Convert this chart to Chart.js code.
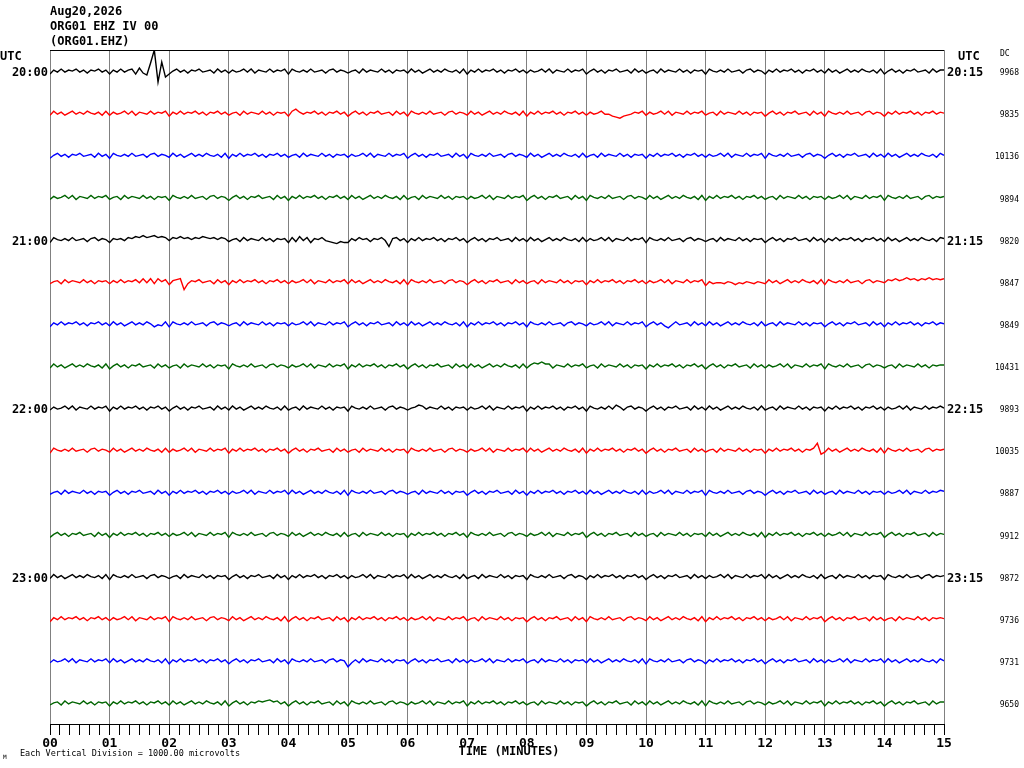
<!DOCTYPE html>
<html lang="en">
<head>
    <meta charset="UTF-8">
    <title>ORG01 EHZ IV 00 helicorder</title>
    <style>
        body {
            margin: 0;
            background-color: #fff;
        }
        canvas {
            display: block;
        }
    </style>
    <script src="https://cdn.jsdelivr.net/npm/chart.js"></script>
</head>
<body>
    <canvas id="heliChart" width="1024" height="768"></canvas>

    <script>
        // Header and axis text
        const titleLines = ['Aug20,2026', 'ORG01 EHZ IV 00', '(ORG01.EHZ)'];
        const minuteLabels = ['00', '01', '02', '03', '04', '05', '06', '07', '08', '09', '10', '11', '12', '13', '14', '15'];
        const leftTimes = ['20:00', '', '', '', '21:00', '', '', '', '22:00', '', '', '', '23:00', '', '', ''];
        const rightTimes = ['20:15', '', '', '', '21:15', '', '', '', '22:15', '', '', '', '23:15', '', '', ''];
        const dcValues = [9968, 9835, 10136, 9894, 9820, 9847, 9849, 10431, 9893, 10035, 9887, 9912, 9872, 9736, 9731, 9650];
        const rowColors = ['#000000', '#ff0000', '#0000ff', '#006400'];

        // One sample every 3.75 s (1/16 min), amplitude in screen units, positive = up
        const sampleStep = 0.0625;
        const rowSpacing = 42.125;

        const trace0 = [-3,1,-1,2,-1,1,0,2,-1,1,-2,1,0,2,-1,1, -3,1,-1,2,-1,1,2,-3,3,-2,-4,8,21,-11,9,-6,
            -3,0,2,-1,1,-2,1,0,2,-1,0,1,-2,2,-1,1, -2,1,-1,0,2,-1,2,-2,1,0,-1,2,-1,1,0,2,
            -3,2,0,-1,1,-1,2,-1,0,1,-2,1,2,-1,1,0, -2,0,1,-2,2,-1,1,0,-1,2,-1,1,-2,1,0,1,
            -2,2,-1,1,-2,0,2,-1,1,-1,2,0,-1,1,-2,2, -3,1,-1,2,-1,1,0,2,-1,1,-2,1,0,2,-1,1,
            -2,1,-1,0,2,-1,2,-2,1,0,-1,2,-1,1,0,2, -3,0,2,-1,1,-2,1,0,2,-1,0,1,-2,2,-1,1,
            -2,0,1,-2,2,-1,1,0,-1,2,-1,1,-2,1,0,1, -3,2,0,-1,1,-1,2,-1,0,1,-2,1,2,-1,1,0,
            -3,1,-1,2,-1,1,0,2,-1,1,-2,1,0,2,-1,1, -2,2,-1,1,-2,0,2,-1,1,-1,2,0,-1,1,-2,2,
            -3,0,2,-1,1,-2,1,0,2,-1,0,1,-2,2,-1,1, 1];
        const trace1 = [-2,2,-1,1,-2,0,2,-1,1,-1,2,0,-1,1,-2,2, -2,1,-1,0,2,-1,2,-2,1,0,-1,2,-1,1,0,2,
            -3,1,-1,2,-1,1,0,2,-1,1,-2,1,0,2,-1,1, -2,0,1,-2,2,-1,1,0,-1,2,-1,1,-2,1,0,1,
            -3,2,4,1,-1,1,0,2,-1,1,-2,1,0,2,-1,1, -3,0,2,-1,1,-2,1,0,2,-1,0,1,-2,2,-1,1,
            -3,2,0,-1,1,-1,2,-1,0,1,-2,1,2,-1,1,0, -2,2,-1,1,-2,0,2,-1,1,-1,2,0,-1,1,-2,2,
            -3,1,-1,2,-1,1,0,2,-1,1,-2,1,0,2,-1,1, -2,1,-1,0,2,-1,-1,-3,-4,-5,-3,-2,-1,1,0,2,
            -2,1,-1,0,2,-1,2,-2,1,0,-1,2,-1,1,0,2, -2,0,1,-2,2,-1,1,0,-1,2,-1,1,-2,1,0,1,
            -3,0,2,-1,1,-2,1,0,2,-1,0,1,-2,2,-1,1, -3,2,0,-1,1,-1,2,-1,0,1,-2,1,2,-1,1,0,
            -3,1,-1,2,-1,1,0,2,-1,1,-2,1,0,2,-1,1, 0];
        const trace2 = [-3,0,2,-1,1,-2,1,0,2,-1,0,1,-2,2,-1,1, -3,2,0,-1,1,-1,2,-1,0,1,-2,1,2,-1,1,0,
            -2,2,-1,1,-2,0,2,-1,1,-1,2,0,-1,1,-2,2, -3,1,-1,2,-1,1,0,2,-1,1,-2,1,0,2,-1,1,
            -2,0,1,-2,2,-1,1,0,-1,2,-1,1,-2,1,0,1, -2,1,-1,0,2,-1,2,-2,1,0,-1,2,-1,1,0,2,
            -3,0,2,-1,1,-2,1,0,2,-1,0,1,-2,2,-1,1, -3,2,0,-1,1,-1,2,-1,0,1,-2,1,2,-1,1,0,
            -2,2,-1,1,-2,0,2,-1,1,-1,2,0,-1,1,-2,2, -2,0,1,-2,2,-1,1,0,-1,2,-1,1,-2,1,0,1,
            -3,1,-1,2,-1,1,0,2,-1,1,-2,1,0,2,-1,1, -2,1,-1,0,2,-1,2,-2,1,0,-1,2,-1,1,0,2,
            -3,2,0,-1,1,-1,2,-1,0,1,-2,1,2,-1,1,0, -3,0,2,-1,1,-2,1,0,2,-1,0,1,-2,2,-1,1,
            -2,2,-1,1,-2,0,2,-1,1,-1,2,0,-1,1,-2,2, 0];
        const trace3 = [-2,1,-1,0,2,-1,2,-2,1,0,-1,2,-1,1,0,2, -2,0,1,-2,2,-1,1,0,-1,2,-1,1,-2,1,0,1,
            -3,2,0,-1,1,-1,2,-1,0,1,-2,1,2,-1,1,0, -3,0,2,-1,1,-2,1,0,2,-1,0,1,-2,2,-1,1,
            -3,1,-1,2,-1,1,0,2,-1,1,-2,1,0,2,-1,1, -2,2,-1,1,-2,0,2,-1,1,-1,2,0,-1,1,-2,2,
            -2,0,1,-2,2,-1,1,0,-1,2,-1,1,-2,1,0,1, -2,1,-1,0,2,-1,2,-2,1,0,-1,2,-1,1,0,2,
            -3,0,2,-1,1,-2,1,0,2,-1,0,1,-2,2,-1,1, -3,2,0,-1,1,-1,2,-1,0,1,-2,1,2,-1,1,0,
            -2,2,-1,1,-2,0,2,-1,1,-1,2,0,-1,1,-2,2, -3,1,-1,2,-1,1,0,2,-1,1,-2,1,0,2,-1,1,
            -2,0,1,-2,2,-1,1,0,-1,2,-1,1,-2,1,0,1, -2,1,-1,0,2,-1,2,-2,1,0,-1,2,-1,1,0,2,
            -3,2,0,-1,1,-1,2,-1,0,1,-2,1,2,-1,1,0, 1];
        const trace4 = [-3,2,0,-1,1,-1,2,-1,0,1,-2,1,2,-1,1,0, -3,1,0,1,-1,2,1,3,2,4,2,3,4,2,3,2,
            -1,2,1,3,1,2,0,2,1,3,2,1,2,0,2,1, -2,0,1,-2,2,-1,1,0,-1,2,-1,1,-2,1,0,1,
            -3,2,-2,3,-1,2,-3,1,0,2,-1,-2,-3,-4,-2,-3, -3,1,-1,2,0,1,-2,1,0,2,-1,-7,1,2,-1,1,
            -3,1,-1,2,-1,1,0,2,-1,1,-2,1,0,2,-1,1, -3,0,2,-1,1,-2,1,0,2,-1,0,1,-2,2,-1,1,
            -2,2,-1,1,-2,0,2,-1,1,-1,2,0,-1,1,-2,2, -2,1,-1,0,2,-1,2,-2,1,0,-1,2,-1,1,0,2,
            -3,2,0,-1,1,-1,2,-1,0,1,-2,1,2,-1,1,0, -2,0,1,-2,2,-1,1,0,-1,2,-1,1,-2,1,0,1,
            -3,0,2,-1,1,-2,1,0,2,-1,0,1,-2,2,-1,1, -3,1,-1,2,-1,1,0,2,-1,1,-2,1,0,2,-1,1,
            -2,2,-1,1,-2,0,2,-1,1,-1,2,0,-1,1,-2,2, 1];
        const trace5 = [-2,0,1,-2,2,-1,1,0,-1,2,-1,1,-2,1,0,1, -2,1,-1,2,-1,1,0,2,-1,3,-1,3,-2,3,0,2,
            -3,1,2,3,-8,-2,1,0,2,-1,0,1,-2,2,-1,1, -3,1,-1,2,-1,1,0,2,-1,1,-2,1,0,2,-1,1,
            -2,1,-1,0,2,-1,2,-2,1,0,-1,2,-1,1,0,2, -2,2,-1,1,-2,0,2,-1,1,-1,2,0,-1,1,-2,2,
            -3,2,0,-1,1,-1,2,-1,0,1,-2,1,2,-1,1,0, -3,0,2,-1,1,-2,1,0,2,-1,0,1,-2,2,-1,1,
            -2,0,1,-2,2,-1,1,0,-1,2,-1,1,-2,1,0,1, -3,1,-1,2,-1,1,0,2,-1,1,-2,1,0,2,-1,1,
            -2,1,-1,0,2,-1,2,-2,1,0,-1,2,-1,1,0,2, -4,0,-2,-1,-1,-2,0,-1,-3,-1,-2,0,-1,-2,0,-1,
            -2,2,-1,1,-2,0,2,-1,1,-1,2,0,-1,1,-2,2, -3,2,0,-1,1,-1,2,-1,0,1,-2,1,2,-1,1,0,
            -1,2,1,3,1,2,4,2,3,1,3,2,4,2,3,2, 3];
        const trace6 = [-3,1,-1,2,-1,1,0,2,-1,1,-2,1,0,2,-1,1, -2,2,-1,1,-2,0,2,-1,1,-1,2,0,-3,-1,-2,2,
            -3,2,0,-1,1,-1,2,-1,0,1,-2,1,2,-1,1,0, -2,0,1,-2,2,-1,1,0,-1,2,-1,1,-2,1,0,1,
            -2,1,-1,0,2,-1,2,-2,1,0,-1,2,-1,1,0,2, -3,0,2,-1,1,-2,1,0,2,-1,0,1,-2,2,-1,1,
            -2,2,-1,1,-2,0,2,-1,1,-1,2,0,-1,1,-2,2, -3,1,-1,2,-1,1,0,2,-1,1,-2,1,0,2,-1,1,
            -3,2,0,-1,1,-1,2,-1,0,1,-2,1,2,-1,1,0, -2,1,-1,0,2,-1,2,-2,1,0,-1,2,-1,1,0,2,
            -3,0,2,-1,1,-2,-4,-1,2,-1,0,1,-2,2,-1,1, -2,2,-1,1,-2,0,2,-1,1,-1,2,0,-1,1,-2,2,
            -2,0,1,-2,2,-1,1,0,-1,2,-1,1,-2,1,0,1, -3,0,2,-1,1,-2,1,0,2,-1,0,1,-2,2,-1,1,
            -3,1,-1,2,-1,1,0,2,-1,1,-2,1,0,2,-1,1, 0];
        const trace7 = [-2,2,-1,1,-2,0,2,-1,1,-1,2,0,-1,1,-2,2, -3,0,2,-1,1,-2,1,0,2,-1,0,1,-2,2,-1,1,
            -2,0,1,-2,2,-1,1,0,-1,2,-1,1,-2,1,0,1, -3,2,0,-1,1,-1,2,-1,0,1,-2,1,2,-1,1,0,
            -2,1,-1,0,2,-1,2,-2,1,0,-1,2,-1,1,0,2, -3,1,-1,2,-1,1,0,2,-1,1,-2,1,0,2,-1,1,
            -3,0,2,-1,1,-2,1,0,2,-1,0,1,-2,2,-1,1, -2,2,-1,1,-2,0,2,-1,1,-1,2,0,-1,1,-2,2,
            -2,1,3,2,4,2,2,-2,1,0,-1,2,-1,1,0,2, -2,0,1,-2,2,-1,1,0,-1,2,-1,1,-2,1,0,1,
            -3,1,-1,2,-1,1,0,2,-1,1,-2,1,0,2,-1,1, -3,0,2,-1,1,-2,1,0,2,-1,0,1,-2,2,-1,1,
            -2,1,-1,0,2,-1,2,-2,1,0,-1,2,-1,1,0,2, -3,2,0,-1,1,-1,2,-1,0,1,-2,1,2,-1,1,0,
            -2,0,1,-2,2,-1,1,0,-1,2,-1,1,-2,1,0,1, 1];
        const trace8 = [-2,1,-1,0,2,-1,2,-2,1,0,-1,2,-1,1,0,2, -3,1,-1,2,-1,1,0,2,-1,1,-2,1,0,2,-1,1,
            -3,0,2,-1,1,-2,1,0,2,-1,0,1,-2,2,-1,1, -2,2,-1,1,-2,0,2,-1,1,-1,2,0,-1,1,-2,2,
            -2,0,1,-2,2,-1,1,0,-1,2,-1,1,-2,1,0,1, -3,2,0,-1,1,-1,2,-1,0,1,-2,1,2,-1,1,0,
            -2,0,1,3,2,-1,1,0,-1,2,-1,1,-2,1,0,1, -2,1,-1,0,2,-1,2,-2,1,0,-1,2,-1,1,0,2,
            -3,1,-1,2,-1,1,0,2,-1,1,-2,1,0,2,-1,1, -3,2,0,-1,1,-1,2,-1,3,1,-2,1,2,-1,1,0,
            -3,0,2,-1,1,-2,1,0,2,-1,0,1,-2,2,-1,1, -2,2,-1,1,-2,0,2,-1,1,-1,2,0,-1,1,-2,2,
            -2,0,1,-2,2,-1,1,0,-1,2,-1,1,-2,1,0,1, -3,1,-1,2,-1,1,0,2,-1,1,-2,1,0,2,-1,1,
            -2,1,-1,0,2,-1,2,-2,1,0,-1,2,-1,1,0,2, 0];
        const trace9 = [-3,2,0,-1,1,-1,2,-1,0,1,-2,1,2,-1,1,0, -2,2,-1,1,-2,0,2,-1,1,-1,2,0,-1,1,-2,2,
            -2,1,-1,0,2,-1,2,-2,1,0,-1,2,-1,1,0,2, -3,1,-1,2,-1,1,0,2,-1,1,-2,1,0,2,-1,1,
            -3,0,2,-1,1,-2,1,0,2,-1,0,1,-2,2,-1,1, -2,0,1,-2,2,-1,1,0,-1,2,-1,1,-2,1,0,1,
            -3,2,0,-1,1,-1,2,-1,0,1,-2,1,2,-1,1,0, -2,1,-1,0,2,-1,2,-2,1,0,-1,2,-1,1,0,2,
            -2,2,-1,1,-2,0,2,-1,1,-1,2,0,-1,1,-2,2, -3,1,-1,2,-1,1,0,2,-1,1,-2,1,0,2,-1,1,
            -3,0,2,-1,1,-2,1,0,2,-1,0,1,-2,2,-1,1, -2,0,1,-2,2,-1,1,0,-1,2,-1,1,-2,1,0,1,
            -3,1,-1,2,-1,1,0,2,-1,1,-2,1,0,2,7,-4, -2,2,-1,1,-2,0,2,-1,1,-1,2,0,-1,1,-2,2,
            -3,2,0,-1,1,-1,2,-1,0,1,-2,1,2,-1,1,0, 1];
        const trace10 = [-2,0,1,-2,2,-1,1,0,-1,2,-1,1,-2,1,0,1, -3,0,2,-1,1,-2,1,0,2,-1,0,1,-2,2,-1,1,
            -3,1,-1,2,-1,1,0,2,-1,1,-2,1,0,2,-1,1, -2,1,-1,0,2,-1,2,-2,1,0,-1,2,-1,1,0,2,
            -2,2,-1,1,-2,0,2,-1,1,-1,2,0,-1,1,-2,2, -3,2,0,-1,1,-1,2,-1,0,1,-2,1,2,-1,1,0,
            -2,0,1,-2,2,-1,1,0,-1,2,-1,1,-2,1,0,1, -3,0,2,-1,1,-2,1,0,2,-1,0,1,-2,2,-1,1,
            -3,1,-1,2,-1,1,0,2,-1,1,-2,1,0,2,-1,1, -2,2,-1,1,-2,0,2,-1,1,-1,2,0,-1,1,-2,2,
            -2,1,-1,0,2,-1,2,-2,1,0,-1,2,-1,1,0,2, -3,2,0,-1,1,-1,2,-1,0,1,-2,1,2,-1,1,0,
            -3,0,2,-1,1,-2,1,0,2,-1,0,1,-2,2,-1,1, -2,0,1,-2,2,-1,1,0,-1,2,-1,1,-2,1,0,1,
            -2,1,-1,0,2,-1,2,-2,1,0,-1,2,-1,1,0,2, 1];
        const trace11 = [-3,0,2,-1,1,-2,1,0,2,-1,0,1,-2,2,-1,1, -3,1,-1,2,-1,1,0,2,-1,1,-2,1,0,2,-1,1,
            -2,1,-1,0,2,-1,2,-2,1,0,-1,2,-1,1,0,2, -3,2,0,-1,1,-1,2,-1,0,1,-2,1,2,-1,1,0,
            -2,2,-1,1,-2,0,2,-1,1,-1,2,0,-1,1,-2,2, -2,0,1,-2,2,-1,1,0,-1,2,-1,1,-2,1,0,1,
            -3,1,-1,2,-1,1,0,2,-1,1,-2,1,0,2,-1,1, -3,2,0,-1,1,-1,2,-1,0,1,-2,1,2,-1,1,0,
            -2,1,-1,0,2,-1,2,-2,1,0,-1,2,-1,1,0,2, -3,0,2,-1,1,-2,1,0,2,-1,0,1,-2,2,-1,1,
            -2,0,1,-2,2,-1,1,0,-1,2,-1,1,-2,1,0,1, -2,2,-1,1,-2,0,2,-1,1,-1,2,0,-1,1,-2,2,
            -3,1,-1,2,-1,1,0,2,-1,1,-2,1,0,2,-1,1, -2,1,-1,0,2,-1,2,-2,1,0,-1,2,-1,1,0,2,
            -3,0,2,-1,1,-2,1,0,2,-1,0,1,-2,2,-1,1, 0];
        const trace12 = [-2,2,-1,1,-2,0,2,-1,1,-1,2,0,-1,1,-2,2, -3,2,0,-1,1,-1,2,-1,0,1,-2,1,2,-1,1,0,
            -2,0,1,-2,2,-1,1,0,-1,2,-1,1,-2,1,0,1, -3,0,2,-1,1,-2,1,0,2,-1,0,1,-2,2,-1,1,
            -3,1,-1,2,-1,1,0,2,-1,1,-2,1,0,2,-1,1, -2,1,-1,0,2,-1,2,-2,1,0,-1,2,-1,1,0,2,
            -2,2,-1,1,-2,0,2,-1,1,-1,2,0,-1,1,-2,2, -2,0,1,-2,2,-1,1,0,-1,2,-1,1,-2,1,0,1,
            -3,2,0,-1,1,-1,2,-1,0,1,-2,1,2,-1,1,0, -3,1,-1,2,-1,1,0,2,-1,1,-2,1,0,2,-1,1,
            -3,0,2,-1,1,-2,1,0,2,-1,0,1,-2,2,-1,1, -2,1,-1,0,2,-1,2,-2,1,0,-1,2,-1,1,0,2,
            -2,2,-1,1,-2,0,2,-1,1,-1,2,0,-1,1,-2,2, -2,0,1,-2,2,-1,1,0,-1,2,-1,1,-2,1,0,1,
            -3,2,0,-1,1,-1,2,-1,0,1,-2,1,2,-1,1,0, 1];
        const trace13 = [-3,1,-1,2,-1,1,0,2,-1,1,-2,1,0,2,-1,1, -2,1,-1,0,2,-1,2,-2,1,0,-1,2,-1,1,0,2,
            -3,2,0,-1,1,-1,2,-1,0,1,-2,1,2,-1,1,0, -2,2,-1,1,-2,0,2,-1,1,-1,2,0,-1,1,-2,2,
            -3,0,2,-1,1,-2,1,0,2,-1,0,1,-2,2,-1,1, -3,1,-1,2,-1,1,0,2,-1,1,-2,1,0,2,-1,1,
            -2,1,-1,0,2,-1,2,-2,1,0,-1,2,-1,1,0,2, -2,0,1,-2,2,-1,1,0,-1,2,-1,1,-2,1,0,1,
            -3,0,2,-1,1,-2,1,0,2,-1,0,1,-2,2,-1,1, -3,2,0,-1,1,-1,2,-1,0,1,-2,1,2,-1,1,0,
            -2,2,-1,1,-2,0,2,-1,1,-1,2,0,-1,1,-2,2, -3,1,-1,2,-1,1,0,2,-1,1,-2,1,0,2,-1,1,
            -2,1,-1,0,2,-1,2,-2,1,0,-1,2,-1,1,0,2, -3,0,2,-1,1,-2,1,0,2,-1,0,1,-2,2,-1,1,
            -2,0,1,-2,2,-1,1,0,-1,2,-1,1,-2,1,0,1, 0];
        const trace14 = [-2,1,-1,0,2,-1,2,-2,1,0,-1,2,-1,1,0,2, -2,2,-1,1,-2,0,2,-1,1,-1,2,0,-1,1,-2,2,
            -3,1,-1,2,-1,1,0,2,-1,1,-2,1,0,2,-1,1, -3,0,2,-1,1,-2,1,0,2,-1,0,1,-2,2,-1,1,
            -3,2,0,-1,1,-1,2,-1,0,1,-2,1,2,-1,1,0, -6,-2,1,-2,2,-1,1,0,-1,2,-1,1,-2,1,0,1,
            -3,0,2,-1,1,-2,1,0,2,-1,0,1,-2,2,-1,1, -2,1,-1,0,2,-1,2,-2,1,0,-1,2,-1,1,0,2,
            -2,0,1,-2,2,-1,1,0,-1,2,-1,1,-2,1,0,1, -2,2,-1,1,-2,0,2,-1,1,-1,2,0,-1,1,-2,2,
            -3,2,0,-1,1,-1,2,-1,0,1,-2,1,2,-1,1,0, -3,1,-1,2,-1,1,0,2,-1,1,-2,1,0,2,-1,1,
            -3,0,2,-1,1,-2,1,0,2,-1,0,1,-2,2,-1,1, -2,1,-1,0,2,-1,2,-2,1,0,-1,2,-1,1,0,2,
            -2,2,-1,1,-2,0,2,-1,1,-1,2,0,-1,1,-2,2, 0];
        const trace15 = [-2,0,1,-2,2,-1,1,0,-1,2,-1,1,-2,1,0,1, -3,1,-1,2,-1,1,0,2,-1,1,-2,1,0,2,-1,1,
            -2,2,-1,1,-2,0,2,-1,1,-1,2,0,-1,1,-2,2, -3,0,2,-1,1,-2,1,0,2,1,2,3,1,2,-1,1,
            -3,0,2,-1,1,-2,1,0,2,-1,0,1,-2,2,-1,1, -3,2,0,-1,1,-1,2,-1,0,1,-2,1,2,-1,1,0,
            -2,1,-1,0,2,-1,2,-2,1,0,-1,2,-1,1,0,2, -3,1,-1,2,-1,1,0,2,-1,1,-2,1,0,2,-1,1,
            -2,0,1,-2,2,-1,1,0,-1,2,-1,1,-2,1,0,1, -3,0,2,-1,1,-2,1,0,2,-1,0,1,-2,2,-1,1,
            -2,2,-1,1,-2,0,2,-1,1,-1,2,0,-1,1,-2,2, -3,2,0,-1,1,-1,2,-1,0,1,-2,1,2,-1,1,0,
            -2,1,-1,0,2,-1,2,-2,1,0,-1,2,-1,1,0,2, -3,1,-1,2,-1,1,0,2,-1,1,-2,1,0,2,-1,1,
            -3,0,2,-1,1,-2,1,0,2,-1,0,1,-2,2,-1,1, 1];

        const traces = [trace0, trace1, trace2, trace3, trace4, trace5, trace6, trace7,
                        trace8, trace9, trace10, trace11, trace12, trace13, trace14, trace15];

        const plotHeight = rowSpacing * traces.length;
        const rowBase = (i) => -(rowSpacing / 2 + i * rowSpacing);

        const datasets = traces.map((trace, i) => ({
            data: trace.map((v, k) => ({ x: k * sampleStep, y: rowBase(i) + v })),
            borderColor: rowColors[i % rowColors.length],
            borderWidth: 1.4,
            pointRadius: 0,
            tension: 0,
            fill: false
        }));

        const monoFont = '"DejaVu Sans Mono", "Liberation Mono", monospace';

        // Text around the plot: header, hour labels, DC offsets, footer
        const heliLabels = {
            id: 'heliLabels',
            afterDraw(chart) {
                const { ctx, chartArea, scales } = chart;
                const y = scales.y;
                ctx.save();

                ctx.strokeStyle = '#000';
                ctx.lineWidth = 1;
                ctx.beginPath();
                ctx.moveTo(chartArea.left, chartArea.top + 0.5);
                ctx.lineTo(chartArea.right, chartArea.top + 0.5);
                ctx.stroke();

                ctx.fillStyle = '#000';
                ctx.textBaseline = 'middle';
                ctx.font = 'bold 12px ' + monoFont;
                ctx.textAlign = 'left';
                titleLines.forEach((t, i) => ctx.fillText(t, chartArea.left, 12 + i * 15));

                ctx.fillText('UTC', 0, 57);
                ctx.fillText('UTC', 958, 57);

                leftTimes.forEach((t, i) => {
                    if (!t) return;
                    const py = y.getPixelForValue(rowBase(i)) + 2;
                    ctx.textAlign = 'right';
                    ctx.fillText(t, chartArea.left - 2, py);
                    ctx.textAlign = 'left';
                    ctx.fillText(rightTimes[i], chartArea.right + 3, py);
                });

                ctx.font = '8px ' + monoFont;
                ctx.textAlign = 'left';
                ctx.fillText('DC', 1000, 54);
                ctx.textAlign = 'right';
                dcValues.forEach((v, i) => {
                    ctx.fillText(String(v), 1019, y.getPixelForValue(rowBase(i)) + 2);
                });

                ctx.font = 'bold 12px ' + monoFont;
                ctx.textAlign = 'center';
                ctx.fillText('TIME (MINUTES)', (chartArea.left + chartArea.right) / 2 + 12, 752);

                ctx.font = '8.5px ' + monoFont;
                ctx.textAlign = 'left';
                ctx.fillText('Each Vertical Division = 1000.00 microvolts', 20, 754);
                ctx.font = '6px ' + monoFont;
                ctx.fillText('M', 3, 757);

                ctx.restore();
            }
        };

        new Chart(document.getElementById('heliChart'), {
            type: 'line',
            data: { datasets: datasets },
            options: {
                responsive: false,
                animation: false,
                layout: { padding: { left: 50, right: 80, top: 50, bottom: 0 } },
                plugins: {
                    legend: { display: false },
                    tooltip: { enabled: false }
                },
                scales: {
                    x: {
                        type: 'linear',
                        min: 0,
                        max: 15,
                        afterBuildTicks: (scale) => {
                            scale.ticks = Array.from({ length: 91 }, (_, k) => ({ value: k / 6 }));
                        },
                        afterFit: (scale) => { scale.height = 44; },
                        ticks: {
                            autoSkip: false,
                            maxRotation: 0,
                            padding: 1,
                            color: '#000',
                            font: { family: monoFont, size: 13, weight: 'bold' },
                            callback: (value, index) => index % 6 === 0 ? minuteLabels[index / 6] : ''
                        },
                        grid: {
                            color: (ctx) => ctx.index % 6 === 0 ? '#808080' : 'rgba(0,0,0,0)',
                            tickColor: '#000',
                            tickLength: 11,
                            lineWidth: 1
                        },
                        border: { color: '#000', width: 1 }
                    },
                    y: {
                        display: false,
                        min: -plotHeight,
                        max: 0
                    }
                }
            },
            plugins: [heliLabels]
        });
    </script>
</body>
</html>
